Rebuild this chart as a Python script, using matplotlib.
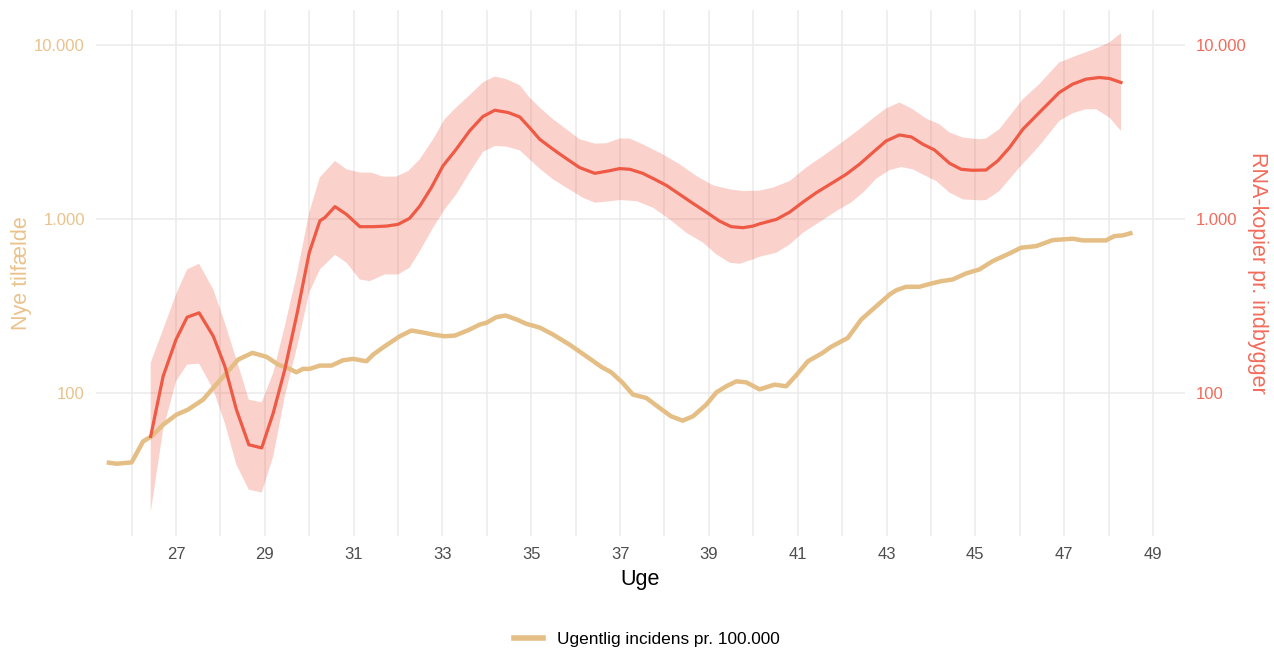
import matplotlib
matplotlib.use("Agg")
import matplotlib.pyplot as plt
from matplotlib.lines import Line2D
from matplotlib.ticker import FixedLocator, FuncFormatter, NullLocator
import numpy as np

plt.rcParams['font.family'] = ['Liberation Sans', 'DejaVu Sans']

# Weekly incidence per 100,000 (7-day rolling)
inc_week = [25.44, 25.66, 26.00, 26.26, 26.45, 26.71, 27.01, 27.27, 27.61, 27.87,
            28.14, 28.40, 28.72, 29.04, 29.30, 29.56, 29.71, 29.86, 30.01, 30.24,
            30.50, 30.76, 30.99, 31.29, 31.44, 31.70, 32.04, 32.30, 32.53, 32.79,
            33.05, 33.28, 33.58, 33.84, 33.99, 34.21, 34.42, 34.67, 34.89, 35.19,
            35.49, 35.86, 36.24, 36.58, 36.80, 37.06, 37.29, 37.59, 37.89, 38.15,
            38.41, 38.64, 38.94, 39.17, 39.39, 39.62, 39.84, 40.14, 40.48, 40.74,
            40.96, 41.23, 41.56, 41.75, 42.13, 42.43, 42.77, 43.07, 43.22, 43.44,
            43.74, 44.01, 44.23, 44.49, 44.79, 45.09, 45.39, 45.77, 46.03, 46.37,
            46.74, 47.19, 47.42, 47.94, 48.13, 48.32, 48.54]
inc_value = [39.9, 39.2, 39.9, 52.7, 56.3, 65.7, 75.0, 80.2, 91.5, 109.2,
             130.3, 155.5, 169.9, 161.2, 145.5, 137.5, 131.4, 137.5, 137.5, 143.6,
             143.6, 154.0, 156.9, 152.0, 166.1, 185.4, 211.7, 228.3, 223.2, 216.5,
             211.7, 213.6, 229.2, 247.2, 252.9, 272.3, 278.5, 264.1, 249.5, 237.6,
             216.5, 189.6, 162.4, 141.1, 131.4, 114.2, 97.8, 93.6, 82.0, 73.4,
             69.3, 73.4, 85.6, 100.8, 109.2, 116.6, 115.1, 104.9, 111.6, 109.2,
             125.8, 152.0, 169.9, 183.9, 207.3, 264.1, 315.0, 367.8, 389.2, 407.2,
             407.2, 425.4, 438.6, 448.6, 485.9, 512.2, 571.8, 633.2, 682.9, 697.5,
             755.1, 769.3, 752.1, 752.1, 796.2, 803.8, 833.0]

# Wastewater RNA copies per inhabitant (smoothed estimate)
rna_week = [26.43, 26.71, 27.00, 27.25, 27.52, 27.84, 28.10, 28.36, 28.64, 28.93,
            29.19, 29.45, 29.73, 30.00, 30.24, 30.35, 30.58, 30.84, 31.14, 31.44,
            31.74, 32.00, 32.26, 32.49, 32.75, 33.01, 33.31, 33.61, 33.91, 34.18,
            34.48, 34.74, 34.96, 35.19, 35.49, 35.79, 36.09, 36.43, 36.73, 36.99,
            37.22, 37.51, 37.78, 38.04, 38.34, 38.64, 38.94, 39.24, 39.50, 39.77,
            39.99, 40.14, 40.52, 40.82, 41.12, 41.42, 41.79, 42.09, 42.39, 42.69,
            42.99, 43.29, 43.56, 43.82, 44.08, 44.42, 44.68, 44.94, 45.24, 45.50,
            45.77, 46.07, 46.44, 46.89, 47.19, 47.49, 47.79, 48.02, 48.28]
rna_value = [56.3, 124.6, 202.6, 272.3, 288.6, 211.7, 142.2, 80.2, 50.4, 48.3,
             76.7, 136.2, 288.6, 639, 975, 1016, 1176, 1061, 902, 902,
             909, 930, 1007, 1185, 1512, 2013, 2512, 3201, 3873, 4210,
             4083, 3853, 3348, 2867, 2512, 2220, 1970, 1827, 1884, 1945,
             1927, 1827, 1688, 1559, 1384, 1228, 1094, 971, 902, 890,
             909, 936, 993, 1094, 1250, 1415, 1616, 1803, 2059, 2404,
             2803, 3035, 2956, 2683, 2489, 2086, 1927, 1902, 1909, 2150,
             2569, 3273, 4083, 5323, 5942, 6346, 6491, 6406, 6077]

# Confidence band around the RNA estimate
upper_week = [26.43, 26.71, 27.00, 27.25, 27.52, 27.84, 28.10, 28.36, 28.64, 28.93,
              29.19, 29.45, 29.73, 30.00, 30.24, 30.58, 30.84, 31.14, 31.40, 31.66,
              31.96, 32.23, 32.49, 32.79, 33.05, 33.31, 33.61, 33.91, 34.18, 34.44,
              34.74, 34.96, 35.19, 35.49, 35.79, 36.09, 36.43, 36.69, 36.99, 37.22,
              37.51, 37.96, 38.34, 38.72, 39.09, 39.47, 39.77, 40.14, 40.44, 40.82,
              41.19, 41.57, 41.94, 42.39, 42.69, 42.99, 43.29, 43.59, 43.89, 44.19,
              44.42, 44.72, 45.09, 45.24, 45.54, 46.07, 46.44, 46.89, 47.27, 47.72,
              48.02, 48.28]
upper_value = [148.8, 231.3, 367.8, 512.2, 552.4, 392.9, 252.9, 155.5, 91.5, 88.3,
               130.3, 241.6, 490.4, 1086, 1733, 2150, 1927, 1844, 1844, 1749,
               1749, 1884, 2200, 2867, 3737, 4363, 5136, 6077, 6579, 6346,
               5863, 4982, 4363, 3737, 3273, 2867, 2707, 2718, 2894, 2894,
               2683, 2350, 2059, 1763, 1559, 1478, 1445, 1453, 1512, 1650,
               1970, 2297, 2683, 3273, 3772, 4306, 4662, 4266, 3772, 3498,
               3133, 2932, 2867, 2894, 3273, 4870, 5942, 7919, 8645, 9535,
               10323, 11676]
lower_week = [26.43, 26.71, 27.00, 27.25, 27.52, 27.84, 28.10, 28.36, 28.64, 28.93,
              29.19, 29.45, 29.73, 30.00, 30.24, 30.58, 30.84, 31.14, 31.36, 31.70,
              32.00, 32.26, 32.49, 32.79, 33.05, 33.31, 33.61, 33.91, 34.18, 34.44,
              34.74, 34.96, 35.19, 35.49, 35.79, 36.16, 36.43, 36.69, 36.99, 37.37,
              37.74, 38.12, 38.49, 38.87, 39.17, 39.47, 39.69, 39.99, 40.14, 40.52,
              40.82, 41.12, 41.49, 41.87, 42.20, 42.47, 42.77, 43.06, 43.33, 43.59,
              43.89, 44.12, 44.42, 44.72, 45.09, 45.24, 45.54, 45.99, 46.44, 46.89,
              47.19, 47.49, 47.72, 48.02, 48.28]
lower_value = [20.6, 61.5, 116.6, 145.5, 147.4, 104.5, 67.2, 38.7, 27.8, 26.8,
               43.2, 95.6, 185.4, 376.2, 512.2, 622.3, 559.8, 448.6, 438.6, 479.5,
               479.5, 523.9, 652.6, 890, 1134, 1384, 1844, 2423, 2624, 2603,
               2478, 2200, 1945, 1688, 1512, 1324, 1240, 1256, 1283, 1266,
               1160, 993, 833, 730, 624.7, 559.8, 552.4, 584.8, 606, 639,
               713.4, 833, 958.5, 1109, 1240, 1415, 1703, 1902, 1986, 1927,
               1763, 1650, 1415, 1295, 1278, 1283, 1445, 1970, 2624, 3654,
               4046, 4266, 4266, 3822, 3201]

week_labels = list(range(27, 50, 2))
week_grid = list(range(26, 50, 2))
y_ticks = [100, 1000, 10000]

TAN = '#E4BE84'
TAN_TEXT = '#EAC28C'
RED = '#EE5A45'
RED_TEXT = '#F26B5B'
GRID = '#EBEBEB'

fig = plt.figure(figsize=(12.74, 6.5), dpi=100)
ax = fig.add_axes([0.0754, 0.1754, 0.8547, 0.8092])

band_x = np.concatenate([upper_week, lower_week[::-1]])
band_y = np.concatenate([upper_value, lower_value[::-1]])
ax.fill(band_x, band_y, color=RED, alpha=0.28, linewidth=0, zorder=2)
ax.plot(inc_week, inc_value, color=TAN, linewidth=3.2, solid_capstyle='butt',
        solid_joinstyle='round', zorder=3)
ax.plot(rna_week, rna_value, color=RED, linewidth=2.3, solid_joinstyle='round', zorder=4)

ax.set_yscale('log')
ax.set_xlim(25.2, 49.72)
ax.set_ylim(15.07, 15850)

fmt = FuncFormatter(lambda v, p: f"{int(round(v)):,}".replace(',', '.'))
ax.yaxis.set_major_locator(FixedLocator(y_ticks))
ax.yaxis.set_minor_locator(NullLocator())
ax.yaxis.set_major_formatter(fmt)
ax.xaxis.set_major_locator(FixedLocator(week_labels))
ax.xaxis.set_minor_locator(FixedLocator(week_grid))

ax.grid(True, which='major', axis='both', color=GRID, linewidth=1.1, zorder=0)
ax.grid(True, which='minor', axis='x', color=GRID, linewidth=1.1, zorder=0)
ax.set_axisbelow(True)
for s in ax.spines.values():
    s.set_visible(False)
ax.tick_params(axis='both', which='both', length=0)
ax.tick_params(axis='x', labelsize=12, labelcolor='#4D4D4D', pad=8)
ax.tick_params(axis='y', labelsize=12, labelcolor=TAN_TEXT, pad=8)

ax.set_xlabel('Uge', fontsize=15.5, color='black', labelpad=5)
ax.set_ylabel('Nye tilfælde', fontsize=15.5, color=TAN_TEXT, labelpad=1.5)

ax2 = ax.twinx()
ax2.set_yscale('log')
ax2.set_ylim(ax.get_ylim())
ax2.yaxis.set_major_locator(FixedLocator(y_ticks))
ax2.yaxis.set_minor_locator(NullLocator())
ax2.yaxis.set_major_formatter(fmt)
for s in ax2.spines.values():
    s.set_visible(False)
ax2.tick_params(axis='y', which='both', length=0, labelsize=12,
                labelcolor=RED_TEXT, pad=8)
ax2.set_ylabel('RNA-kopier pr. indbygger', fontsize=15.5, color=RED_TEXT,
               rotation=270, labelpad=15)

handle = Line2D([], [], color=TAN, linewidth=4)
fig.legend(handles=[handle], labels=['Ugentlig incidens pr. 100.000'],
           loc='center', bbox_to_anchor=(0.508, 0.016), frameon=False,
           fontsize=12.4, handlelength=1.65, handletextpad=0.85)

fig.savefig('out.png', dpi=100, facecolor='white')
